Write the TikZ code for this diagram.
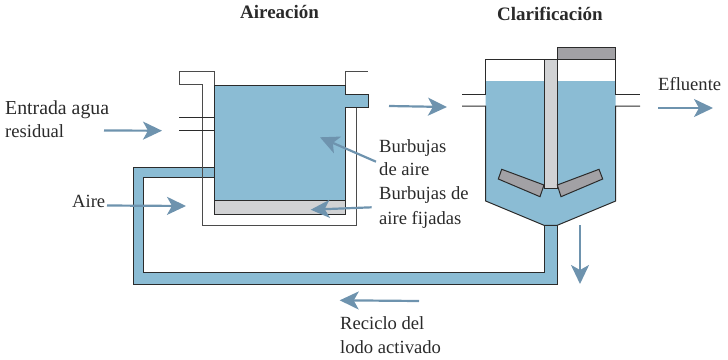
\documentclass[tikz,border=0pt]{standalone}
\usepackage{fontspec}
\setmainfont{Liberation Serif}
\usetikzlibrary{arrows.meta}
\definecolor{water}{HTML}{8BBCD4}
\definecolor{lightgr}{HTML}{D1D2D4}
\definecolor{darkgr}{HTML}{A2A1A5}
\definecolor{flow}{HTML}{6E93AE}
\definecolor{ink}{HTML}{2B2B2B}
\definecolor{txt}{HTML}{2A2A2A}
\tikzset{
  wall/.style={draw=ink,line width=1pt,line join=miter},
  thinwall/.style={draw=ink!85,line width=0.9pt},
  flowarrow/.style={draw=flow,line width=2.2pt,-{Stealth[length=19pt,width=18pt,inset=5pt]}},
  lab/.style={anchor=base west,inner sep=0pt,text=txt,font=\fontsize{18.6}{20}\selectfont},
  title/.style={anchor=base west,inner sep=0pt,text=txt,font=\fontsize{19}{20}\selectfont\bfseries}
}
\begin{document}
\begin{tikzpicture}[x=1pt,y=-1pt]
\useasboundingbox (0,0) rectangle (728,359);
% return pipe
\fill[water] (133,167) -- (214,167) -- (214,177.5) -- (143,177.5) -- (143,272) -- (544,272) -- (544,225) -- (557.3,225) -- (557.3,284.5) -- (133,284.5) -- cycle;
\draw[wall] (214,167) -- (133,167) -- (133,284.5) -- (557.3,284.5) -- (557.3,225);
\draw[wall] (214,177.5) -- (143,177.5) -- (143,272) -- (544,272) -- (544,225);
% aeration tank
\fill[water] (214.3,85.3) rectangle (345,200);
\fill[water] (345,94) rectangle (368,107.7);
\fill[lightgr] (214.3,200) rectangle (345,214);
\draw[thinwall] (214.3,85.3) -- (214.3,71.7) -- (179,71.7) -- (179,84) -- (202,84) -- (202,225) -- (356,225) -- (356,107.7);
\draw[thinwall] (345,85.3) -- (345,71.7) -- (368,71.7);
\draw[wall] (214.3,85.3) -- (345,85.3) -- (345,94) -- (368,94) -- (368,107.7) -- (345,107.7) -- (345,214) -- (214.3,214) -- cycle;
\draw[wall] (214.3,200) -- (345,200);
\draw[wall] (179,117.7) -- (214.3,117.7);
\draw[wall] (179,130) -- (214.3,130);
% clarifier
\fill[water] (485.7,81) -- (615.7,81) -- (615.7,201) -- (557.3,225.3) -- (544,225.3) -- (485.7,201) -- cycle;
\draw[wall] (462,94) -- (485.7,94) -- (485.7,59) -- (615.7,59) -- (615.7,94) -- (640,94);
\draw[wall] (462,106) -- (485.7,106) -- (485.7,201) -- (544,225.3) -- (557.3,225.3) -- (615.7,201) -- (615.7,106) -- (640,106);
\draw[wall,fill=darkgr] (557.3,47.3) rectangle (615.7,59);
\draw[wall,fill=lightgr] (544,59) rectangle (557.3,188.3);
\draw[wall,fill=darkgr] (501.7,169.3) -- (498.3,179) -- (540,196.7) -- (544,185) -- cycle;
\draw[wall,fill=darkgr] (557.3,185) -- (561,196.7) -- (602.7,179) -- (599,169.3) -- cycle;
% flow arrows
\coordinate (a1s) at (104,130.5); \coordinate (a1e) at (162,130.7);
\coordinate (a2s) at (107,205.5); \coordinate (a2e) at (186,206);
\coordinate (a3s) at (376,161.7); \coordinate (a3e) at (320,137.3);
\coordinate (a4s) at (371.7,207.3); \coordinate (a4e) at (310.7,209.7);
\coordinate (a5s) at (389,106); \coordinate (a5e) at (447,107);
\coordinate (a6s) at (658,108); \coordinate (a6e) at (713,108);
\coordinate (a7s) at (580,225); \coordinate (a7e) at (580,284);
\coordinate (a8s) at (419,301); \coordinate (a8e) at (339.7,300.3);
\foreach \i in {1,...,8} \draw[flowarrow] (a\i s) -- (a\i e);
% labels
\node[title] (t1) at (240,18.5) {Aireación};
\node[title] (t2) at (497,20.5) {Clarificación};
\node[lab,font=\fontsize{19.8}{20}\selectfont] (l1) at (5,114) {Entrada agua};
\node[lab] (l2) at (5,137.5) {residual};
\node[lab] (l3) at (72,207.5) {Aire};
\node[lab] (l4) at (379,152.5) {Burbujas};
\node[lab] (l5) at (379,175) {de aire};
\node[lab] (l6) at (379,199) {Burbujas de};
\node[lab] (l7) at (379,224) {aire fijadas};
\node[lab] (l8) at (658,90) {Efluente};
\node[lab] (l9) at (340,329) {Reciclo del};
\node[lab] (l10) at (340,353) {lodo activado};
\end{tikzpicture}
\end{document}
